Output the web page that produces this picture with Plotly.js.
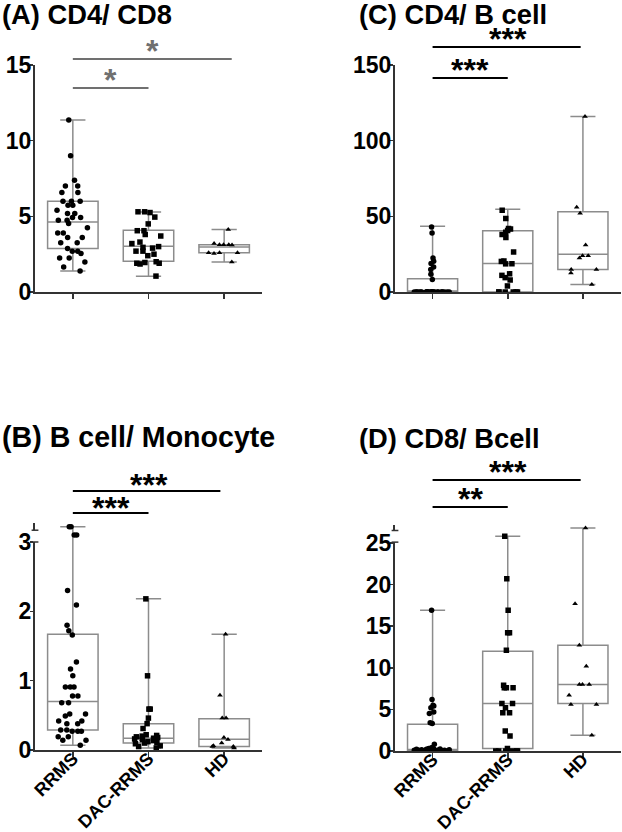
<!DOCTYPE html>
<html><head><meta charset="utf-8">
<script src="https://cdn.plot.ly/plotly-3.0.1.min.js"></script>
<style>html,body{margin:0;padding:0;background:#fff}</style>
</head><body><div id="chart" style="width:622px;height:832px"></div>
<script>
const categories = ['RRMS', 'DAC-RRMS', 'HD'];
const symbols = ['circle', 'square', 'triangle-up'];

// (A) CD4/ CD8
const A_RRMS = [11.36, 9.0, 7.39, 7.0, 7.0, 6.57, 6.57, 6.0, 6.0, 6.0, 5.74, 5.74, 5.4, 5.18, 5.18, 4.92, 4.92, 4.74, 4.74, 4.52, 4.24, 3.9, 3.9, 3.6, 3.6, 3.26, 3.26, 2.87, 2.7, 2.7, 2.54, 2.25, 2.25, 1.99, 1.65, 1.39];
const A_DAC = [5.3, 5.3, 5.25, 4.95, 4.5, 4.05, 4.05, 3.8, 3.7, 3.3, 3.2, 3.0, 2.95, 2.9, 2.7, 2.7, 2.5, 2.4, 2.0, 1.95, 1.9, 1.9, 1.85, 1.05];
const A_HD = [4.13, 3.2, 3.13, 3.1, 3.13, 3.13, 2.6, 2.6, 2.6, 2.55, 1.99];
const A_q1 = [2.87, 2.03, 2.6], A_med = [4.63, 3.02, 2.98], A_q3 = [6.0, 4.08, 3.13], A_lo = [1.39, 1.04, 1.99], A_hi = [11.36, 5.29, 4.13];

// (C) CD4/ B cell
const C_RRMS = [43, 39, 22.5, 20.3, 18.8, 16.5, 14.8, 11.7, 8.2, 0, 0, 0, 0, 0, 0, 0, 0, 0, 0, 0, 0, 0, 0, 0, 0, 0, 0, 0, 0, 0, 0, 0, 0, 0, 0, 0];
const C_DAC = [54, 48.5, 42, 41.7, 40.6, 39.4, 38, 36, 26.5, 20.5, 20.2, 18.6, 18.6, 12, 11, 9.5, 8, 4, 0, 0, 0, 0, 0, 0];
const C_HD = [116, 56, 52, 31, 24, 24, 22.5, 14.8, 14.8, 12.6, 5];
const C_q1 = [0, 0, 14.8], C_med = [0, 18.8, 25], C_q3 = [8.8, 40.4, 53], C_lo = [0, 0, 5], C_hi = [43.5, 54.7, 116];

// (B) B cell/ Monocyte
const B_RRMS = [3.22, 3.22, 3.1, 3.1, 2.3, 2.09, 1.8, 1.72, 1.66, 1.27, 1.17, 1.07, 0.91, 0.91, 0.91, 0.78, 0.78, 0.68, 0.68, 0.52, 0.52, 0.49, 0.42, 0.42, 0.38, 0.38, 0.29, 0.29, 0.27, 0.27, 0.27, 0.19, 0.19, 0.14, 0.14, 0.07];
const B_DAC = [2.18, 1.07, 0.59, 0.59, 0.46, 0.38, 0.31, 0.22, 0.21, 0.2, 0.19, 0.18, 0.17, 0.17, 0.16, 0.15, 0.14, 0.12, 0.11, 0.1, 0.09, 0.06, 0.05, 0.03];
const B_HD = [1.67, 0.79, 0.46, 0.46, 0.18, 0.15, 0.1, 0.06, 0.05, 0.05, 0.03];
const B_q1 = [0.29, 0.1, 0.05], B_med = [0.7, 0.17, 0.155], B_q3 = [1.67, 0.38, 0.45], B_lo = [0.07, 0.03, 0.03], B_hi = [3.22, 2.18, 1.67];

// (D) CD8/ Bcell
const D_RRMS = [16.9, 6.2, 5.5, 5.4, 5.2, 4.7, 4.5, 3.4, 3.3, 0.8, 0.4, 0.35, 0.3, 0.3, 0.25, 0.25, 0.2, 0.2, 0.2, 0.15, 0.15, 0.15, 0.1, 0.1, 0.1, 0.1, 0.08, 0.05, 0.05, 0.05, 0.03, 0.02, 0.02, 0.01, 0.01, 0];
const D_DAC = [25.8, 20.7, 16.9, 14.2, 14.2, 12.1, 7.9, 7.6, 7.6, 7.6, 5.7, 5.7, 5.2, 4.6, 4.6, 2.4, 1.8, 0.3, 0, 0, 0, 0, 0, 0];
const D_HD = [26.8, 17.7, 12.7, 10.2, 8.0, 8.0, 8.0, 6.7, 5.6, 5.6, 1.9];
const D_q1 = [0.05, 0.3, 5.7], D_med = [0.12, 5.7, 8.0], D_q3 = [3.2, 12.0, 12.7], D_lo = [0, 0, 1.9], D_hi = [16.9, 25.8, 26.8];

const FONT = 'Liberation Sans, Arial, sans-serif';
const AXC = '#333333';
const BOXC = '#8c8c8c';
const BOXW = 0.667;

const panels = [
  {xa: 'x',  ya: 'y',  groups: [A_RRMS, A_DAC, A_HD], q1: A_q1, med: A_med, q3: A_q3, lo: A_lo, hi: A_hi},
  {xa: 'x2', ya: 'y2', groups: [C_RRMS, C_DAC, C_HD], q1: C_q1, med: C_med, q3: C_q3, lo: C_lo, hi: C_hi},
  {xa: 'x3', ya: 'y3', groups: [B_RRMS, B_DAC, B_HD], q1: B_q1, med: B_med, q3: B_q3, lo: B_lo, hi: B_hi},
  {xa: 'x4', ya: 'y4', groups: [D_RRMS, D_DAC, D_HD], q1: D_q1, med: D_med, q3: D_q3, lo: D_lo, hi: D_hi}
];

const traces = [];
panels.forEach(p => {
  traces.push({
    type: 'box', xaxis: p.xa, yaxis: p.ya, x: categories, width: BOXW,
    q1: p.q1, median: p.med, q3: p.q3, lowerfence: p.lo, upperfence: p.hi,
    boxpoints: false, fillcolor: 'white', whiskerwidth: 0.5,
    line: {color: BOXC, width: 1.5}, hoverinfo: 'skip'
  });
  p.groups.forEach((vals, i) => {
    traces.push({
      type: 'box', xaxis: p.xa, yaxis: p.ya, width: BOXW,
      x: vals.map(() => categories[i]), y: vals,
      boxpoints: 'all', jitter: 0.75, pointpos: 0,
      fillcolor: 'rgba(0,0,0,0)', line: {color: 'rgba(0,0,0,0)', width: 0}, whiskerwidth: 0,
      marker: {symbol: symbols[i], size: i === 2 ? 5 : 5.5, color: 'black'}
    });
  });
});

function xax(domain, anchor, labels) {
  return {
    domain: domain, anchor: anchor, type: 'category', categoryarray: categories, categoryorder: 'array',
    range: [-0.5, 2.5], showline: true, linecolor: AXC, linewidth: 2,
    ticks: 'outside', ticklen: 5, tickwidth: 1.5, tickcolor: AXC,
    showticklabels: labels, tickangle: -45, ticklabelstandoff: -16,
    tickfont: {family: FONT, size: 18, color: 'black', weight: 'bold'},
    showgrid: false, zeroline: false, fixedrange: true
  };
}
function yax(domain, anchor, range, dtick) {
  return {
    domain: domain, anchor: anchor, range: range, tick0: 0, dtick: dtick,
    showline: true, linecolor: AXC, linewidth: 2,
    ticks: 'outside', ticklen: 3, tickwidth: 1.5, tickcolor: AXC, ticklabelstandoff: -6,
    tickfont: {family: FONT, size: 23, color: 'black', weight: 'bold'},
    showgrid: false, zeroline: false, fixedrange: true
  };
}

const W = 622, H = 832;
const xL = [35 / W, 262 / W], xR = [395 / W, 620.5 / W];
const yTop = [1 - 292 / H, 1 - 65 / H];
const yBotB = [1 - 750 / H, 1 - 523 / H];
const yBotD = [1 - 751 / H, 1 - 525 / H];

function sigLine(xa, ya, x0, x1, y, color) {
  return {type: 'line', xref: xa, yref: ya + ' domain', x0: x0, x1: x1, y0: y, y1: y, line: {color: color, width: 2}};
}
function star(xa, ya, x, y, txt, color, shift) {
  return {xref: xa, yref: ya + ' domain', x: x, y: y, text: txt, showarrow: false,
    xanchor: 'center', yanchor: 'bottom', yshift: shift,
    font: {family: FONT, size: 32, color: color, weight: 'bold'}};
}
function title(x, y, txt, size) {
  return {xref: 'paper', yref: 'paper', x: x, y: y, text: txt, showarrow: false,
    xanchor: 'left', yanchor: 'middle', font: {family: FONT, size: size, color: 'black', weight: 'bold'}};
}
function brk(xa, ya, y0, y1) {
  return [
    {type: 'line', xref: xa + ' domain', yref: ya, x0: 0, x1: 0, y0: y0, y1: y1, line: {color: 'white', width: 4}},
    {type: 'line', xref: xa + ' domain', yref: ya, x0: -0.015, x1: 0.015, y0: y0, y1: y0, line: {color: AXC, width: 1.5}},
    {type: 'line', xref: xa + ' domain', yref: ya, x0: -0.015, x1: 0.015, y0: y1, y1: y1, line: {color: AXC, width: 1.5}}
  ];
}

const GREY = '#707070';
const layout = {
  width: W, height: H, margin: {l: 0, r: 0, t: 0, b: 0},
  paper_bgcolor: 'white', plot_bgcolor: 'white', showlegend: false,
  boxmode: 'overlay',
  xaxis: xax(xL, 'y', false), yaxis: yax(yTop, 'x', [0, 15], 5),
  xaxis2: xax(xR, 'y2', false), yaxis2: yax(yTop, 'x2', [0, 150], 50),
  xaxis3: xax(xL, 'y3', true), yaxis3: yax(yBotB, 'x3', [0, 3.274], 1),
  xaxis4: xax(xR, 'y4', true), yaxis4: yax(yBotD, 'x4', [0, 27.16], 5),
  shapes: [
    sigLine('x', 'y', 0, 1, 0.899, GREY), sigLine('x', 'y', 0, 2.1, 1.026, GREY),
    sigLine('x2', 'y2', 0, 1, 0.943, 'black'), sigLine('x2', 'y2', 0, 1.97, 1.079, 'black'),
    sigLine('x3', 'y3', 0, 1, 1.044, 'black'), sigLine('x3', 'y3', 0, 1.95, 1.141, 'black'),
    sigLine('x4', 'y4', 0, 1, 1.080, 'black'), sigLine('x4', 'y4', 0, 1.97, 1.199, 'black')
  ].concat(brk('x3', 'y3', 3.0, 3.17), brk('x4', 'y4', 25.1, 26.5)),
  annotations: [
    title(0, 1 - 15 / H, '(A) CD4/ CD8', 27.3),
    title(357 / W, 1 - 15 / H, '(C) CD4/ B cell', 27.3),
    title(0, 1 - 437 / H, '(B) B cell/ Monocyte', 28.6),
    title(357 / W, 1 - 438 / H, '(D) CD8/ Bcell', 27.3),
    star('x', 'y', 0.5, 0.899, '*', GREY, -12), star('x', 'y', 1.05, 1.026, '*', GREY, -12),
    star('x2', 'y2', 0.5, 0.943, '***', 'black', -12), star('x2', 'y2', 1.0, 1.079, '***', 'black', -12),
    star('x3', 'y3', 0.5, 1.044, '***', 'black', -15), star('x3', 'y3', 1.0, 1.141, '***', 'black', -14),
    star('x4', 'y4', 0.5, 1.080, '**', 'black', -12), star('x4', 'y4', 1.0, 1.199, '***', 'black', -12)
  ]
};

Plotly.newPlot('chart', traces, layout, {displayModeBar: false, staticPlot: true});
</script></body></html>
